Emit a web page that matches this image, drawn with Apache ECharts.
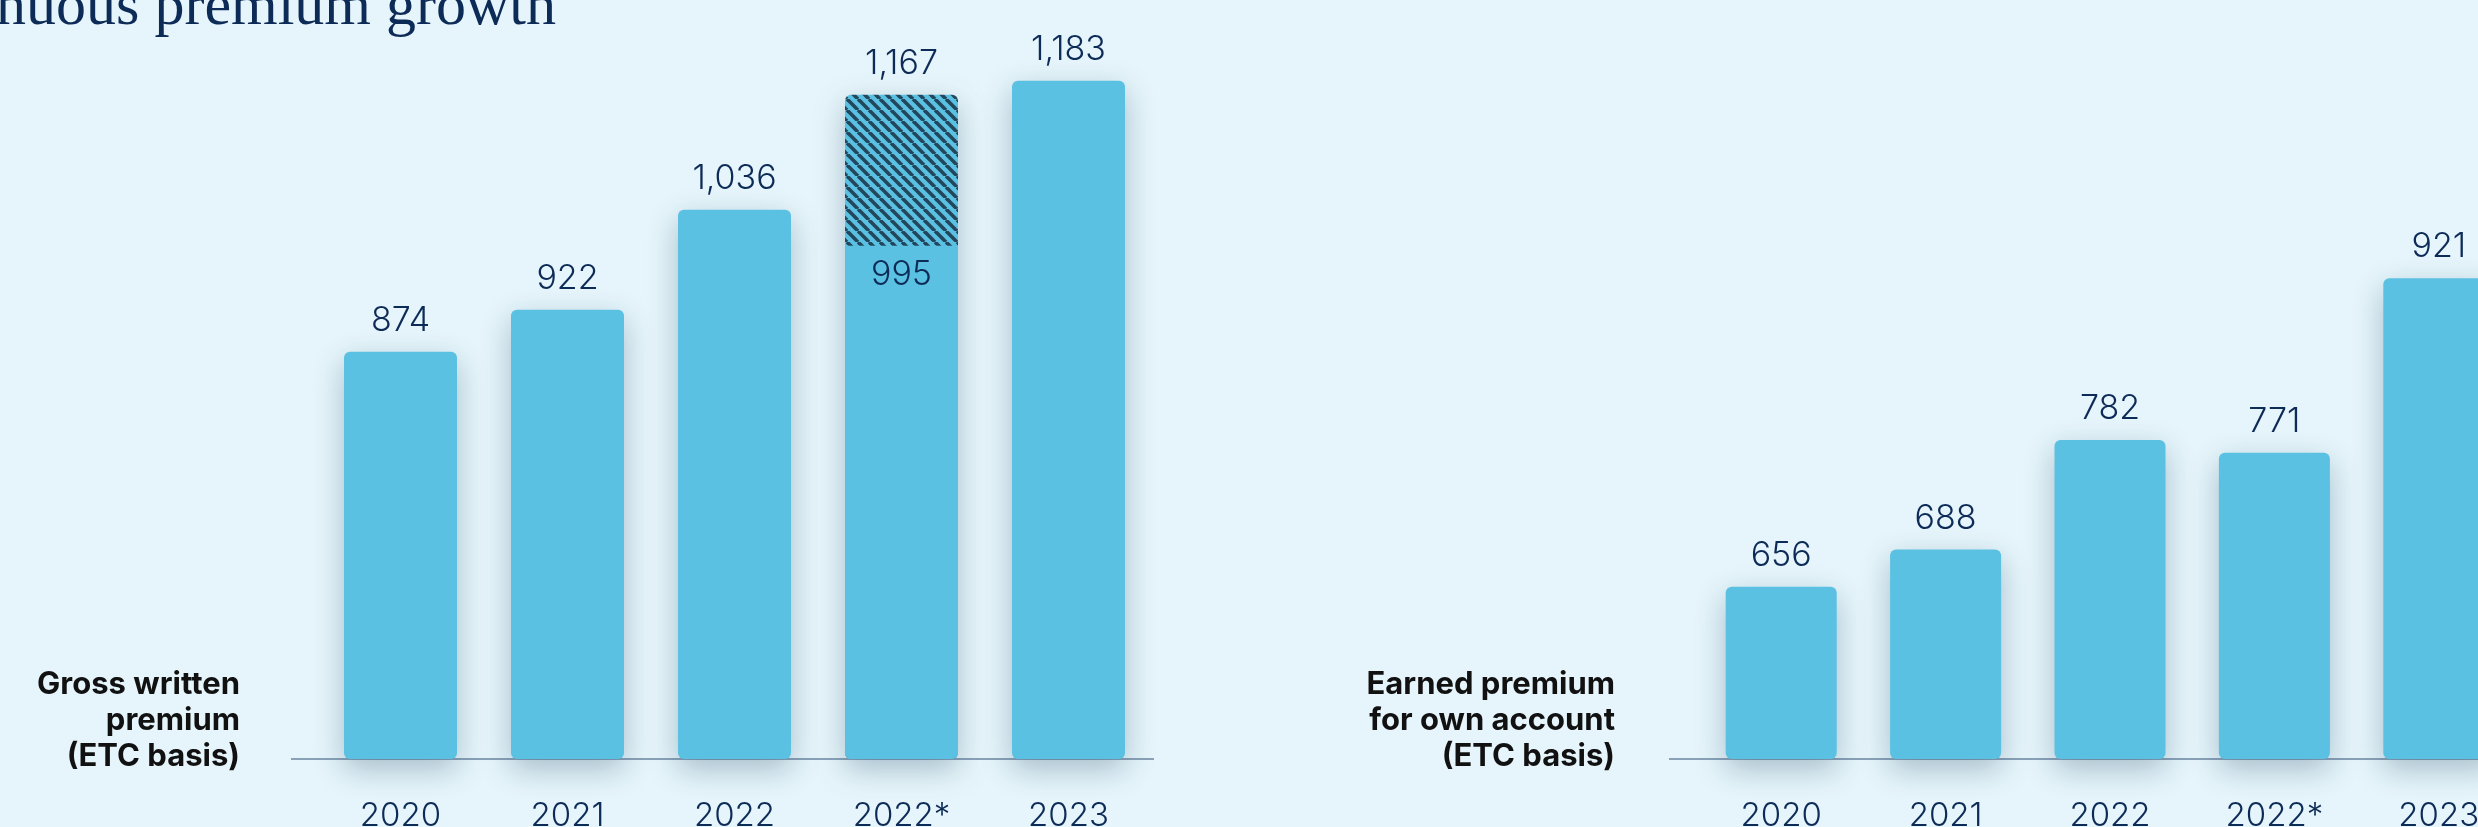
<!DOCTYPE html>
<html>
<head>
<meta charset="utf-8">
<title>Continuous premium growth</title>
<script src="https://cdn.jsdelivr.net/npm/echarts@6/dist/echarts.min.js"></script>
<style>
  html, body { margin: 0; padding: 0; background: #e6f5fb; overflow: hidden; }
  /* the last bar of the right panel runs past the page edge */
  #chart { width: 2530px; height: 827px; }
</style>
</head>
<body>
<div id="chart"></div>
<script>
// Years shown under both panels
const categories = ['2020', '2021', '2022', '2022*', '2023'];
// Gross written premium (ETC basis), EUR m
const grossWritten = [874, 922, 1036, 995, 1183];
// 2022* restated total (hatched part on top of 995)
const grossRestated = [null, null, null, 1167, null];
// Earned premium for own account (ETC basis), EUR m
const earnedOwn = [656, 688, 782, 771, 921];

const BAR = '#5bc1e2';
const NAVY = '#0d2b57';
const BG = '#e6f5fb';
const LABEL_FONT = 'Inter, "Open Sans", sans-serif';

// Diagonal stripe tile for the hatched segment
function stripePattern() {
  const s = 11;
  const c = document.createElement('canvas');
  c.width = s; c.height = s;
  const g = c.getContext('2d');
  g.fillStyle = BAR;
  g.fillRect(0, 0, s, s);
  g.strokeStyle = '#23465c';
  g.lineWidth = 3.6;
  for (const k of [-s, 0, s]) {
    g.beginPath();
    g.moveTo(k, 0);
    g.lineTo(k + s, s);
    g.stroke();
  }
  return c;
}

const fmt = v => Number(v).toLocaleString('en-US');
const shadow = { shadowColor: 'rgba(20, 60, 90, 0.3)', shadowBlur: 30, shadowOffsetY: 10 };

const valueLabel = {
  show: true,
  position: 'top',
  distance: 14,
  color: NAVY,
  fontFamily: LABEL_FONT,
  fontSize: 34,
  fontWeight: 300,
  formatter: p => fmt(p.value)
};

const chart = echarts.init(document.getElementById('chart'), null, { renderer: 'canvas' });

const grossMain = grossWritten.map((v, i) => {
  if (grossRestated[i] != null) {
    return {
      value: v,
      itemStyle: { borderRadius: [0, 0, 6, 6], shadowBlur: 0, shadowOffsetY: 0 },
      label: { position: 'insideTop', distance: 12 }
    };
  }
  return v;
});

const axisLabel = {
  color: NAVY,
  fontFamily: LABEL_FONT,
  fontSize: 33,
  fontWeight: 300,
  margin: 41
};

chart.setOption({
  backgroundColor: BG,
  animation: false,
  grid: [
    { left: 317, width: 835, top: 0, bottom: 68, outerBoundsMode: 'none', containLabel: false },
    { left: 1699, width: 822, top: 0, bottom: 68, outerBoundsMode: 'none', containLabel: false }
  ],
  xAxis: [
    { type: 'category', gridIndex: 0, data: categories, axisLine: { show: false }, axisTick: { show: false }, axisLabel },
    { type: 'category', gridIndex: 1, data: categories, axisLine: { show: false }, axisTick: { show: false }, axisLabel }
  ],
  yAxis: [
    { type: 'value', gridIndex: 0, min: 410, max: 1275, show: false, splitLine: { show: false } },
    { type: 'value', gridIndex: 1, min: 508, max: 1160, show: false, splitLine: { show: false } }
  ],
  series: [
    {
      type: 'bar', xAxisIndex: 0, yAxisIndex: 0,
      data: grossRestated,
      barWidth: 113, barGap: '-100%',
      itemStyle: Object.assign({ color: { image: stripePattern(), repeat: 'repeat' }, borderRadius: 6 }, shadow),
      label: valueLabel,
      z: 2
    },
    {
      type: 'bar', xAxisIndex: 0, yAxisIndex: 0,
      data: grossMain,
      barWidth: 113, barGap: '-100%',
      itemStyle: Object.assign({ color: BAR, borderRadius: 6 }, shadow),
      label: valueLabel,
      z: 3
    },
    {
      type: 'bar', xAxisIndex: 1, yAxisIndex: 1,
      data: earnedOwn,
      barWidth: 111,
      itemStyle: Object.assign({ color: BAR, borderRadius: 6 }, shadow),
      label: valueLabel,
      z: 3
    }
  ],
  graphic: [
    {
      type: 'text', x: 556, y: 38, z: 10,
      style: {
        text: 'Continuous premium growth',
        fill: NAVY, font: '60px "Liberation Serif", "DejaVu Serif", serif',
        textAlign: 'right', textVerticalAlign: 'bottom'
      }
    },
    {
      type: 'line', z: 1,
      shape: { x1: 291, y1: 759, x2: 1154, y2: 759 },
      style: { stroke: '#8aa2b8', lineWidth: 2 }
    },
    {
      type: 'line', z: 1,
      shape: { x1: 1669, y1: 759, x2: 2530, y2: 759 },
      style: { stroke: '#8aa2b8', lineWidth: 2 }
    },
    {
      type: 'text', x: 240, y: 721, z: 10,
      style: {
        text: 'Gross written\npremium\n(ETC basis)',
        fill: '#111111', font: 'bold 31px Inter, "Open Sans", sans-serif',
        lineHeight: 36, textAlign: 'right', textVerticalAlign: 'middle'
      }
    },
    {
      type: 'text', x: 1615, y: 721, z: 10,
      style: {
        text: 'Earned premium\nfor own account\n(ETC basis)',
        fill: '#111111', font: 'bold 31px Inter, "Open Sans", sans-serif',
        lineHeight: 36, textAlign: 'right', textVerticalAlign: 'middle'
      }
    }
  ]
});
</script>
</body>
</html>
